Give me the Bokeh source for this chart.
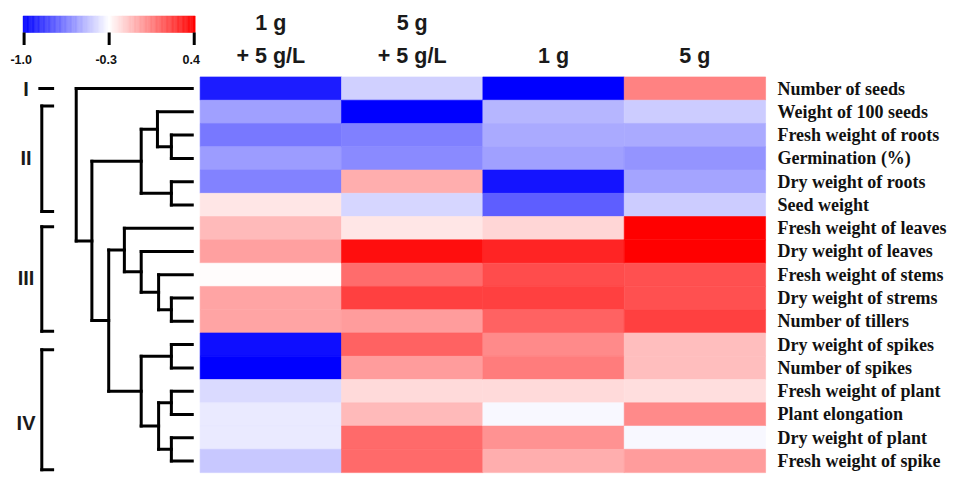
import numpy as np
from bokeh.plotting import figure
from bokeh.models import Range1d, ColumnDataSource
from bokeh.transform import linear_cmap
from bokeh.core.properties import value
from bokeh.embed import file_html
from bokeh.resources import INLINE

# ---------------- data ----------------
ROWS = ["Number of seeds", "Weight of 100 seeds", "Fresh weight of roots", "Germination (%)",
        "Dry weight of roots", "Seed weight", "Fresh weight of leaves", "Dry weight of leaves",
        "Fresh weight of stems", "Dry weight of strems", "Number of tillers", "Dry weight of spikes",
        "Number of spikes", "Fresh weight of plant", "Plant elongation", "Dry weight of plant",
        "Fresh weight of spike"]
COLUMNS = ["1 g\n+ 5 g/L", "5 g\n+ 5 g/L", "1 g", "5 g"]

VAL_1G_5GL = [-0.92, -0.56, -0.67, -0.57, -0.64, -0.23, -0.11, -0.04, -0.29, -0.05, -0.05,
              -0.96, -1.00, -0.40, -0.36, -0.36, -0.45]
VAL_5G_5GL = [-0.43, -1.00, -0.65, -0.62, -0.08, -0.41, -0.23, 0.36, 0.10, 0.22, -0.03,
              0.13, -0.03, -0.20, -0.11, 0.11, 0.11]
VAL_1G = [-1.00, -0.50, -0.53, -0.56, -0.94, -0.74, -0.19, 0.30, 0.19, 0.22, 0.13,
          0.02, 0.06, -0.20, -0.32, 0.00, -0.08]
VAL_5G = [0.04, -0.44, -0.53, -0.59, -0.55, -0.44, 0.40, 0.40, 0.18, 0.18, 0.22,
          -0.12, -0.12, -0.21, 0.02, -0.32, -0.03]
SERIES = [VAL_1G_5GL, VAL_5G_5GL, VAL_1G, VAL_5G]

CB_MIN, CB_MID, CB_MAX = -1.0, -0.3, 0.4
CB_TICKS = [-1.0, -0.3, 0.4]
CB_TICK_LABELS = ["-1.0", "-0.3", "0.4"]

# hierarchical clustering: (child a, child b, merge height); leaves are rows 0..16
LINKAGE = [
    (2, 3, 0.18), (1, 17, 0.30), (4, 5, 0.18), (18, 19, 0.44),
    (9, 10, 0.18), (8, 21, 0.29), (7, 22, 0.44), (6, 23, 0.585),
    (11, 12, 0.18), (13, 14, 0.18), (15, 16, 0.18), (26, 27, 0.29), (25, 28, 0.44),
    (24, 29, 0.72), (20, 30, 0.865), (0, 31, 1.0),
]
CLUSTER_NAMES = ["I", "II", "III", "IV"]
CLUSTER_ROWS = [(0, 0), (1, 5), (6, 10), (11, 16)]

# ---------------- layout helpers (reference pixel -> data units) ----------------
HX0, CW = 203.0, 143.75   # heatmap left edge, column width
HY0, RH = 79.0, 24.06     # heatmap top edge, row height
def X(px): return (px - HX0) / CW
def Y(py): return (py - HY0) / RH

W, H = 948, 475
p = figure(width=W, height=H, output_backend="svg", toolbar_location=None,
           x_range=Range1d(X(0), X(964)), y_range=Range1d(Y(491), Y(0)),
           x_axis_location=None, y_axis_location=None, min_border=0,
           outline_line_color=None, background_fill_color="white")
p.grid.visible = False

# palette: blue -> white (at -0.3) -> red
pal = []
for i in range(256):
    v = CB_MIN + (CB_MAX - CB_MIN) * i / 255
    if v <= CB_MID:
        t = (v - CB_MIN) / (CB_MID - CB_MIN)
        pal.append("#%02x%02x%02x" % (int(round(t * 255)), int(round(t * 255)), 255))
    else:
        s = (v - CB_MID) / (CB_MAX - CB_MID)
        g = int(round((1 - s) * 255))
        pal.append("#%02x%02x%02x" % (255, g, g))
cmap = linear_cmap("v", pal, CB_MIN, CB_MAX)

# ---------------- heatmap ----------------
xs, ys, vs = [], [], []
for c, ser in enumerate(SERIES):
    for r, v in enumerate(ser):
        xs.append(c + 0.5); ys.append(r + 0.5); vs.append(v)
src = ColumnDataSource(dict(x=xs, y=ys, v=vs))
p.rect("x", "y", width=1, height=1, source=src, fill_color=cmap, line_color=cmap, line_width=0.6)

# ---------------- row labels ----------------
p.text(x=[X(790)] * len(ROWS), y=[r + 0.5 for r in range(len(ROWS))], text=ROWS,
       text_font=value("Liberation Serif"), text_font_style="bold", text_font_size="18px",
       text_baseline="middle", text_align="left", text_color="#111111")

# ---------------- column headers ----------------
hx, hy, ht = [], [], []
base_lines = [Y(57), Y(23)]
for c, name in enumerate(COLUMNS):
    lines = name.split("\n")
    for k, line in enumerate(reversed(lines)):
        hx.append(c + 0.5); hy.append(base_lines[k]); ht.append(line)
p.text(x=hx, y=hy, text=ht, text_font=value("Liberation Sans"), text_font_style="bold",
       text_font_size="21.5px", text_align="center", text_baseline="alphabetic", text_color="#1a1a1a")

# ---------------- dendrogram ----------------
LEAF_X, SPAN = X(195), X(195) - X(77)
def hx_(h): return LEAF_X - h * SPAN
n = len(ROWS)
ny = {i: i + 0.5 for i in range(n)}
nh = {i: 0.0 for i in range(n)}
x0s, y0s, x1s, y1s = [], [], [], []
for k, (a, b, h) in enumerate(LINKAGE):
    xp = hx_(h)
    ya, yb = ny[a], ny[b]
    x0s += [hx_(nh[a]), hx_(nh[b]), xp]
    y0s += [ya, yb, ya]
    x1s += [xp, xp, xp]
    y1s += [ya, yb, yb]
    ny[n + k] = (ya + yb) / 2
    nh[n + k] = h
p.segment(x0s, y0s, x1s, y1s, line_color="black", line_width=3, line_cap="square")

# ---------------- cluster brackets ----------------
BR_X, BR_TICK = X(42), X(53)
br_pad = {"II": (Y(109), Y(218)), "III": (Y(234), Y(342)), "IV": (Y(361), Y(485))}
label_y = {"I": Y(91), "II": Y(163), "III": Y(287), "IV": Y(437)}
bx0, by0, bx1, by1 = [], [], [], []
for name, (r0, r1) in zip(CLUSTER_NAMES, CLUSTER_ROWS):
    if r0 == r1:
        bx0.append(X(40)); bx1.append(BR_TICK); by0.append(r0 + 0.5); by1.append(r0 + 0.5)
    else:
        t, b = br_pad[name]
        bx0 += [BR_X, BR_X, BR_X]; bx1 += [BR_X, BR_TICK, BR_TICK]
        by0 += [t, t, b]; by1 += [b, t, b]
p.segment(bx0, by0, bx1, by1, line_color="black", line_width=3, line_cap="square")
p.text(x=[X(26)] * 4, y=[label_y[c] for c in CLUSTER_NAMES], text=CLUSTER_NAMES,
       text_font=value("Liberation Sans"), text_font_style="bold", text_font_size="20px",
       text_align="center", text_baseline="middle", text_color="#1a1a1a")

# ---------------- colour bar ----------------
CB_L, CB_R, CB_T, CB_B = 23, 198, 16, 33
nseg = 140
edges = np.linspace(CB_MIN, CB_MAX, nseg + 1)
def cbx(v): return X(CB_L + (v - CB_MIN) / (CB_MAX - CB_MIN) * (CB_R - CB_L))
cb_src = ColumnDataSource(dict(left=[cbx(e) for e in edges[:-1]], right=[cbx(e) for e in edges[1:]],
                               v=list((edges[:-1] + edges[1:]) / 2)))
p.quad(left="left", right="right", top=Y(CB_T), bottom=Y(CB_B), source=cb_src,
       fill_color=cmap, line_color=cmap, line_width=0.5)
def tickx(v): return X(24 + (v - CB_MIN) / (CB_MAX - CB_MIN) * (197 - 24))
p.segment([tickx(v) for v in CB_TICKS], [Y(CB_B)] * 3, [tickx(v) for v in CB_TICKS], [Y(46)] * 3,
          line_color="black", line_width=3)
p.text(x=[tickx(v) - X(203 + 3) + X(203) for v in CB_TICKS], y=[Y(61)] * 3, text=CB_TICK_LABELS,
       text_font=value("Liberation Sans"), text_font_style="bold", text_font_size="12.5px",
       text_align="center", text_baseline="alphabetic", text_color="#111111")

open("out.html", "w").write(file_html(p, INLINE))
